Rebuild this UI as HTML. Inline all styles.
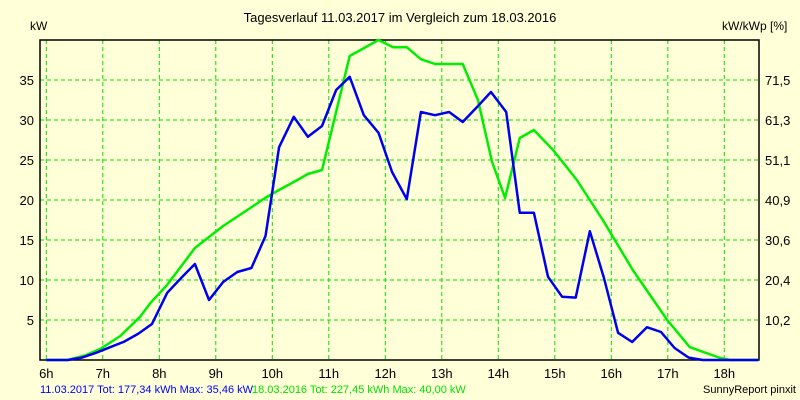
<!DOCTYPE html>
<html><head><meta charset="utf-8"><style>
body{margin:0;background:#ffffd8;}
svg{display:block;font-family:"Liberation Sans",sans-serif;}
</style></head><body>
<svg id="c" width="800" height="400">
<rect width="800" height="400" fill="#ffffd8"/>
<g id="grid"></g><g id="series"></g><g id="labels"></g>
<text x="400" y="22" font-size="13" text-anchor="middle">Tagesverlauf 11.03.2017 im Vergleich zum 18.03.2016</text>
<text x="30" y="30" font-size="12">kW</text>
<text x="722" y="30" font-size="12">kW/kWp [%]</text>
<text x="40" y="393" font-size="11" fill="#0000ff">11.03.2017 Tot: 177,34 kWh Max: 35,46 kW</text>
<text x="252" y="393" font-size="11" fill="#00e000">18.03.2016 Tot: 227,45 kWh Max: 40,00 kW</text>
<text x="796" y="393" font-size="11" text-anchor="end">SunnyReport pinxit</text>
</svg>
<script>
const hourTicks=[6,7,8,9,10,11,12,13,14,15,16,17,18];
const kwTicks=[5,10,15,20,25,30,35];
const pctTicks=["10,2","20,4","30,6","40,9","51,1","61,3","71,5"];
const blueHours=[6.0,6.38,6.63,6.88,7.13,7.38,7.63,7.87,8.14,8.38,8.63,8.88,9.13,9.38,9.63,9.88,10.12,10.38,10.63,10.88,11.13,11.37,11.62,11.88,12.12,12.38,12.63,12.88,13.13,13.37,13.62,13.87,14.14,14.38,14.63,14.88,15.13,15.37,15.62,15.87,16.12,16.37,16.63,16.88,17.12,17.37,17.62,18.6];
const blueKw=[0,0,0.3,0.9,1.6,2.3,3.3,4.5,8.4,10.2,12.0,7.5,9.75,11,11.5,15.5,26.6,30.4,27.9,29.25,33.75,35.4,30.6,28.4,23.5,20.1,31,30.6,31,29.75,31.6,33.5,31,18.4,18.4,10.4,7.9,7.8,16.1,10.25,3.4,2.25,4.1,3.5,1.5,0.3,0,0];
const greenHours=[6.0,6.38,6.7,6.96,7.31,7.66,7.84,8.14,8.63,9.13,9.61,9.87,10.12,10.38,10.63,10.88,11.37,11.88,12.14,12.38,12.63,12.88,13.37,13.64,13.89,14.12,14.38,14.63,14.97,15.39,15.85,16.38,16.99,17.39,17.93,18.1,18.6];
const greenKw=[0,0,0.6,1.4,3,5.4,7.1,9.4,14,16.75,19,20.25,21.25,22.25,23.25,23.75,38,40,39.1,39.1,37.6,37,37,32.5,24.75,20.25,27.75,28.75,26.25,22.5,17.5,11.25,5,1.6,0.25,0,0];
const L=40,R=759,T=40,B=360;
const xs=h=>46.3+(h-6)*56.5;
const ys=v=>B-(v/40)*(B-T);
const NS="http://www.w3.org/2000/svg";
const grid=document.getElementById('grid'),lab=document.getElementById('labels'),ser=document.getElementById('series');
function mk(tag,attrs,parent){const e=document.createElementNS(NS,tag);for(const k in attrs)e.setAttribute(k,attrs[k]);parent.appendChild(e);return e;}
hourTicks.forEach(h=>{
 const l=mk('line',{x1:xs(h),x2:xs(h),y1:T,y2:B,stroke:'#00e000','stroke-dasharray':'4,3'},grid);
 
 
 const t=mk('text',{x:xs(h),y:B+18,'font-size':13,'text-anchor':'middle'},lab);
 
 
 t.textContent=h+'h';
});
kwTicks.forEach((v,i)=>{
 const l=mk('line',{x1:L,x2:R,y1:ys(v),y2:ys(v),stroke:'#00e000','stroke-dasharray':'4,3'},grid);
 
 
 const t=mk('text',{x:L-6,y:ys(v)+5,'font-size':13,'text-anchor':'end'},lab);
 
 
 t.textContent=v;
 const t2=mk('text',{x:R+6,y:ys(v)+5,'font-size':13},lab);
 
 
 t2.textContent=pctTicks[i];
});
const ax=mk('path',{d:`M${L},${T}H${R}V${B}H${L}Z`,fill:'none',stroke:'#000','stroke-width':1.5},grid);


function line(hs,vs,color,name){
 const p=mk('polyline',{points:hs.map((h,i)=>xs(h)+','+ys(vs[i])).join(' '),fill:'none',stroke:color,'stroke-width':2.5,'stroke-linejoin':'round'},ser);
 
 
}
line(greenHours,greenKw,'#00ee00','series-2016-line');
line(blueHours,blueKw,'#0000ee','series-2017-line');
</script>
</body></html>
